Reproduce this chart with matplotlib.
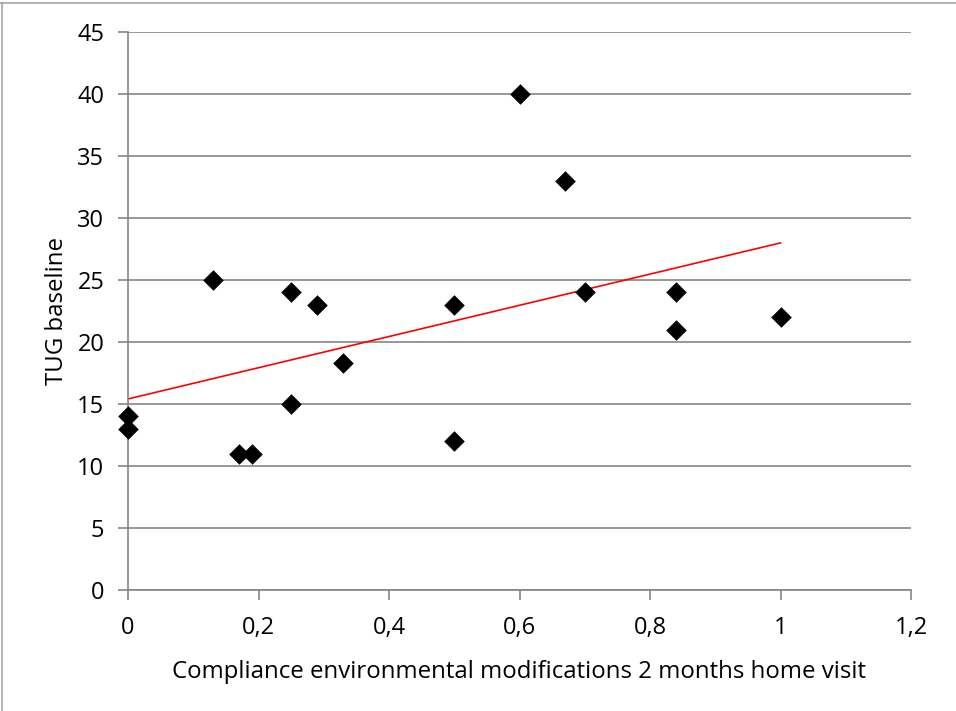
import numpy as np
import matplotlib
matplotlib.use("Agg")
import matplotlib.pyplot as plt
from matplotlib.ticker import FuncFormatter
from matplotlib.lines import Line2D

# compliance (x) vs TUG baseline (y)
compliance = [0, 0, 0.13, 0.17, 0.19, 0.25, 0.25, 0.29, 0.33, 0.5, 0.5, 0.6, 0.67, 0.7, 0.84, 0.84, 1.0]
tug = [14, 13, 25, 11, 11, 24, 15, 23, 18.3, 23, 12, 40, 33, 24, 24, 21, 22]

x_ticks = [0, 0.2, 0.4, 0.6, 0.8, 1.0, 1.2]
y_ticks = [0, 5, 10, 15, 20, 25, 30, 35, 40, 45]

plt.rcParams['font.family'] = ['Open Sans', 'DejaVu Sans']

W, H = 956, 711
fig = plt.figure(figsize=(W / 100, H / 100), dpi=100)
ax = fig.add_axes([128 / W, 1 - 590 / H, (911 - 128) / W, (590 - 32) / H])

grid_col = '#868686'

ax.scatter(compliance, tug, marker='D', s=110, color='black', zorder=3,
           linewidths=0, clip_on=False)

# linear trend line
slope, intercept = np.polyfit(compliance, tug, 1)
xt = np.array([min(compliance), max(compliance)])
ax.plot(xt, intercept + slope * xt, color='#ff0000', lw=1.2, zorder=2)

ax.set_xlim(0, 1.2)
ax.set_ylim(0, 45)
ax.set_xticks(x_ticks)
ax.set_yticks(y_ticks)
fmt = FuncFormatter(lambda v, p: ('%g' % round(v, 2)).replace('.', ','))
ax.xaxis.set_major_formatter(fmt)
ax.yaxis.set_major_formatter(fmt)

ax.grid(axis='y', color=grid_col, lw=1.2)
ax.set_axisbelow(True)
for s in ['top', 'right']:
    ax.spines[s].set_visible(False)
ax.spines['left'].set_color(grid_col)
ax.spines['bottom'].set_color(grid_col)
ax.spines['left'].set_linewidth(1.2)
ax.spines['bottom'].set_linewidth(1.2)
ax.tick_params(axis='both', colors=grid_col, length=7, width=1.2, labelcolor='black', labelsize=17)
ax.tick_params(axis='y', pad=10)
ax.tick_params(axis='x', pad=12)

ax.set_xlabel('Compliance environmental modifications 2 months home visit', fontsize=17.3, labelpad=14)
ax.set_ylabel('TUG baseline', fontsize=17.3, labelpad=6)

# outer frame lines (left and top)
fig.add_artist(Line2D([1.5 / W, 1.5 / W], [0, 1 - 3 / H], color='#a6a6a6', lw=1.2, transform=fig.transFigure))
fig.add_artist(Line2D([0, 1], [1 - 3 / H, 1 - 3 / H], color='#a6a6a6', lw=1.2, transform=fig.transFigure))

fig.savefig('out.png', dpi=100)
